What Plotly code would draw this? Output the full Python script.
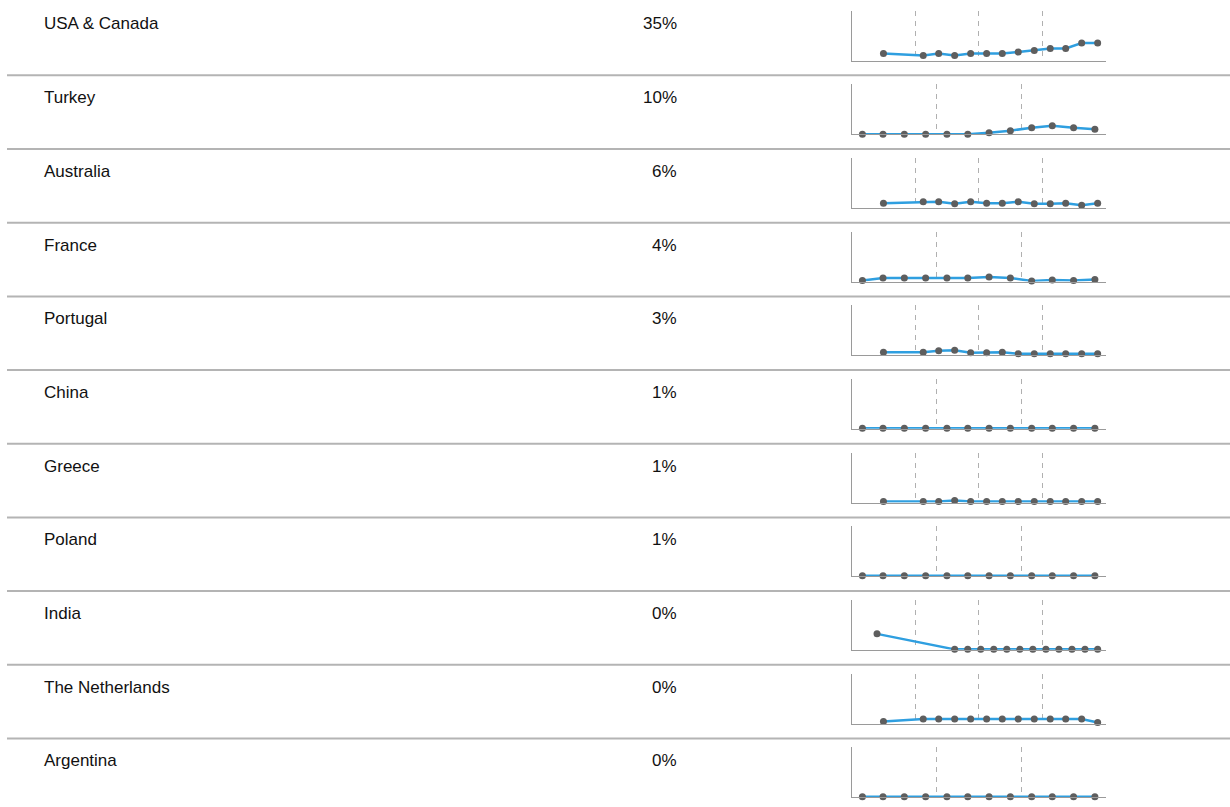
import plotly.graph_objects as go

W, H = 1230, 807

regions = ["USA & Canada", "Turkey", "Australia", "France", "Portugal", "China",
           "Greece", "Poland", "India", "The Netherlands", "Argentina"]
shares = ["35%", "10%", "6%", "4%", "3%", "1%", "1%", "1%", "0%", "0%", "0%"]

# quarterly sample dates
dates_13 = ["2014-07-01",
            "2015-02-15", "2015-05-15", "2015-08-15", "2015-11-15",
            "2016-02-15", "2016-05-15", "2016-08-15", "2016-11-15",
            "2017-02-15", "2017-05-15", "2017-08-15", "2017-11-15"]
dates_12 = dates_13[1:]
dates_india = ["2014-05-25",
               "2015-08-15", "2015-10-29", "2016-01-12", "2016-03-27",
               "2016-06-10", "2016-08-24", "2016-11-07", "2017-01-21",
               "2017-04-06", "2017-06-20", "2017-09-03", "2017-11-15"]

usa = [14, 10, 14, 10, 14, 14, 14, 17, 20, 24, 24, 35, 35]
turkey = [0, 0, 0, 0, 0, 0, 3, 7, 13, 17, 13, 10]
australia = [9, 12, 12, 8, 12, 9, 9, 12, 8, 8, 9, 5, 9]
france = [2, 7, 7, 7, 7, 7, 9, 7, 1, 3, 2, 4]
portugal = [6, 6, 9, 10, 5, 5, 6, 3, 3, 3, 3, 3, 3]
china = [1, 1, 1, 1, 1, 1, 1, 1, 1, 1, 1, 1]
greece = [2, 2, 2, 4, 2, 2, 2, 2, 2, 2, 2, 2, 2]
poland = [1, 1, 1, 1, 1, 1, 1, 1, 1, 1, 1, 1]
india = [32, 1, 1, 1, 1, 1, 1, 1, 1, 1, 1, 1, 1]
netherlands = [4, 9, 9, 9, 9, 9, 9, 9, 9, 9, 9, 9, 2]
argentina = [1, 1, 1, 1, 1, 1, 1, 1, 1, 1, 1, 1]

series = [
    (dates_13, usa, ["2014-01-01", "2018-01-02"]),
    (dates_12, turkey, ["2015-01-01", "2018-01-02"]),
    (dates_13, australia, ["2014-01-01", "2018-01-02"]),
    (dates_12, france, ["2015-01-01", "2018-01-02"]),
    (dates_13, portugal, ["2014-01-01", "2018-01-02"]),
    (dates_12, china, ["2015-01-01", "2018-01-02"]),
    (dates_13, greece, ["2014-01-01", "2018-01-02"]),
    (dates_12, poland, ["2015-01-01", "2018-01-02"]),
    (dates_india, india, ["2014-01-01", "2018-01-02"]),
    (dates_13, netherlands, ["2014-01-01", "2018-01-02"]),
    (dates_12, argentina, ["2015-01-01", "2018-01-02"]),
]

ROW_TOP = 2.0
ROW_H = 73.67
SPARK_X0, SPARK_X1 = 852, 1106
SPARK_OFF0, SPARK_OFF1 = 8.5, 58.5

LINE_BLUE = "#2f9fe0"
MARKER_GREY = "#5e5e5e"
AXIS_GREY = "#9a9a9a"
GRID_GREY = "#b0b0b0"
SEP_GREY = "#b4b4b4"
TEXT = "#111111"
FONT = "Liberation Sans, Arial, sans-serif"

fig = go.Figure()
layout = dict(
    width=W, height=H,
    margin=dict(l=0, r=0, t=0, b=0),
    paper_bgcolor="white", plot_bgcolor="white",
    showlegend=False,
    annotations=[], shapes=[],
)

def ypaper(px):
    return 1 - px / H

for i, (name, share, (xs, ys, xr)) in enumerate(zip(regions, shares, series)):
    top = ROW_TOP + ROW_H * i
    k = "" if i == 0 else str(i + 1)
    fig.add_trace(go.Scatter(
        x=xs, y=ys, xaxis="x" + k, yaxis="y" + k,
        mode="lines+markers",
        line=dict(color=LINE_BLUE, width=2.5),
        marker=dict(color=MARKER_GREY, size=7),
        hoverinfo="skip", cliponaxis=False,
    ))
    layout["xaxis" + k] = dict(
        domain=[SPARK_X0 / W, SPARK_X1 / W],
        anchor="y" + k, type="date", range=xr,
        dtick="M12", tick0="2014-01-01",
        showticklabels=False, ticks="",
        showgrid=True, gridcolor=GRID_GREY, gridwidth=1, griddash="5px,5px",
        showline=True, linecolor=AXIS_GREY, linewidth=1,
        zeroline=False, fixedrange=True,
    )
    layout["yaxis" + k] = dict(
        domain=[ypaper(top + SPARK_OFF1), ypaper(top + SPARK_OFF0)],
        anchor="x" + k, range=[0, 100],
        showticklabels=False, ticks="", showgrid=False,
        showline=True, linecolor=AXIS_GREY, linewidth=1,
        zeroline=False, fixedrange=True,
    )
    layout["annotations"].append(dict(
        xref="paper", yref="paper", x=42 / W, y=ypaper(top + 22),
        text=name, showarrow=False, xanchor="left", yanchor="middle",
        font=dict(family=FONT, size=17, color=TEXT),
    ))
    layout["annotations"].append(dict(
        xref="paper", yref="paper", x=679 / W, y=ypaper(top + 22),
        text=share, showarrow=False, xanchor="right", yanchor="middle",
        font=dict(family=FONT, size=17, color=TEXT),
    ))
    if i < len(regions) - 1:
        sep = top + ROW_H - 0.3
        layout["shapes"].append(dict(
            type="line", xref="paper", yref="paper",
            x0=7 / W, x1=1, y0=ypaper(sep), y1=ypaper(sep),
            line=dict(color=SEP_GREY, width=2),
        ))

fig.update_layout(**layout)
fig.write_html("out.html")
